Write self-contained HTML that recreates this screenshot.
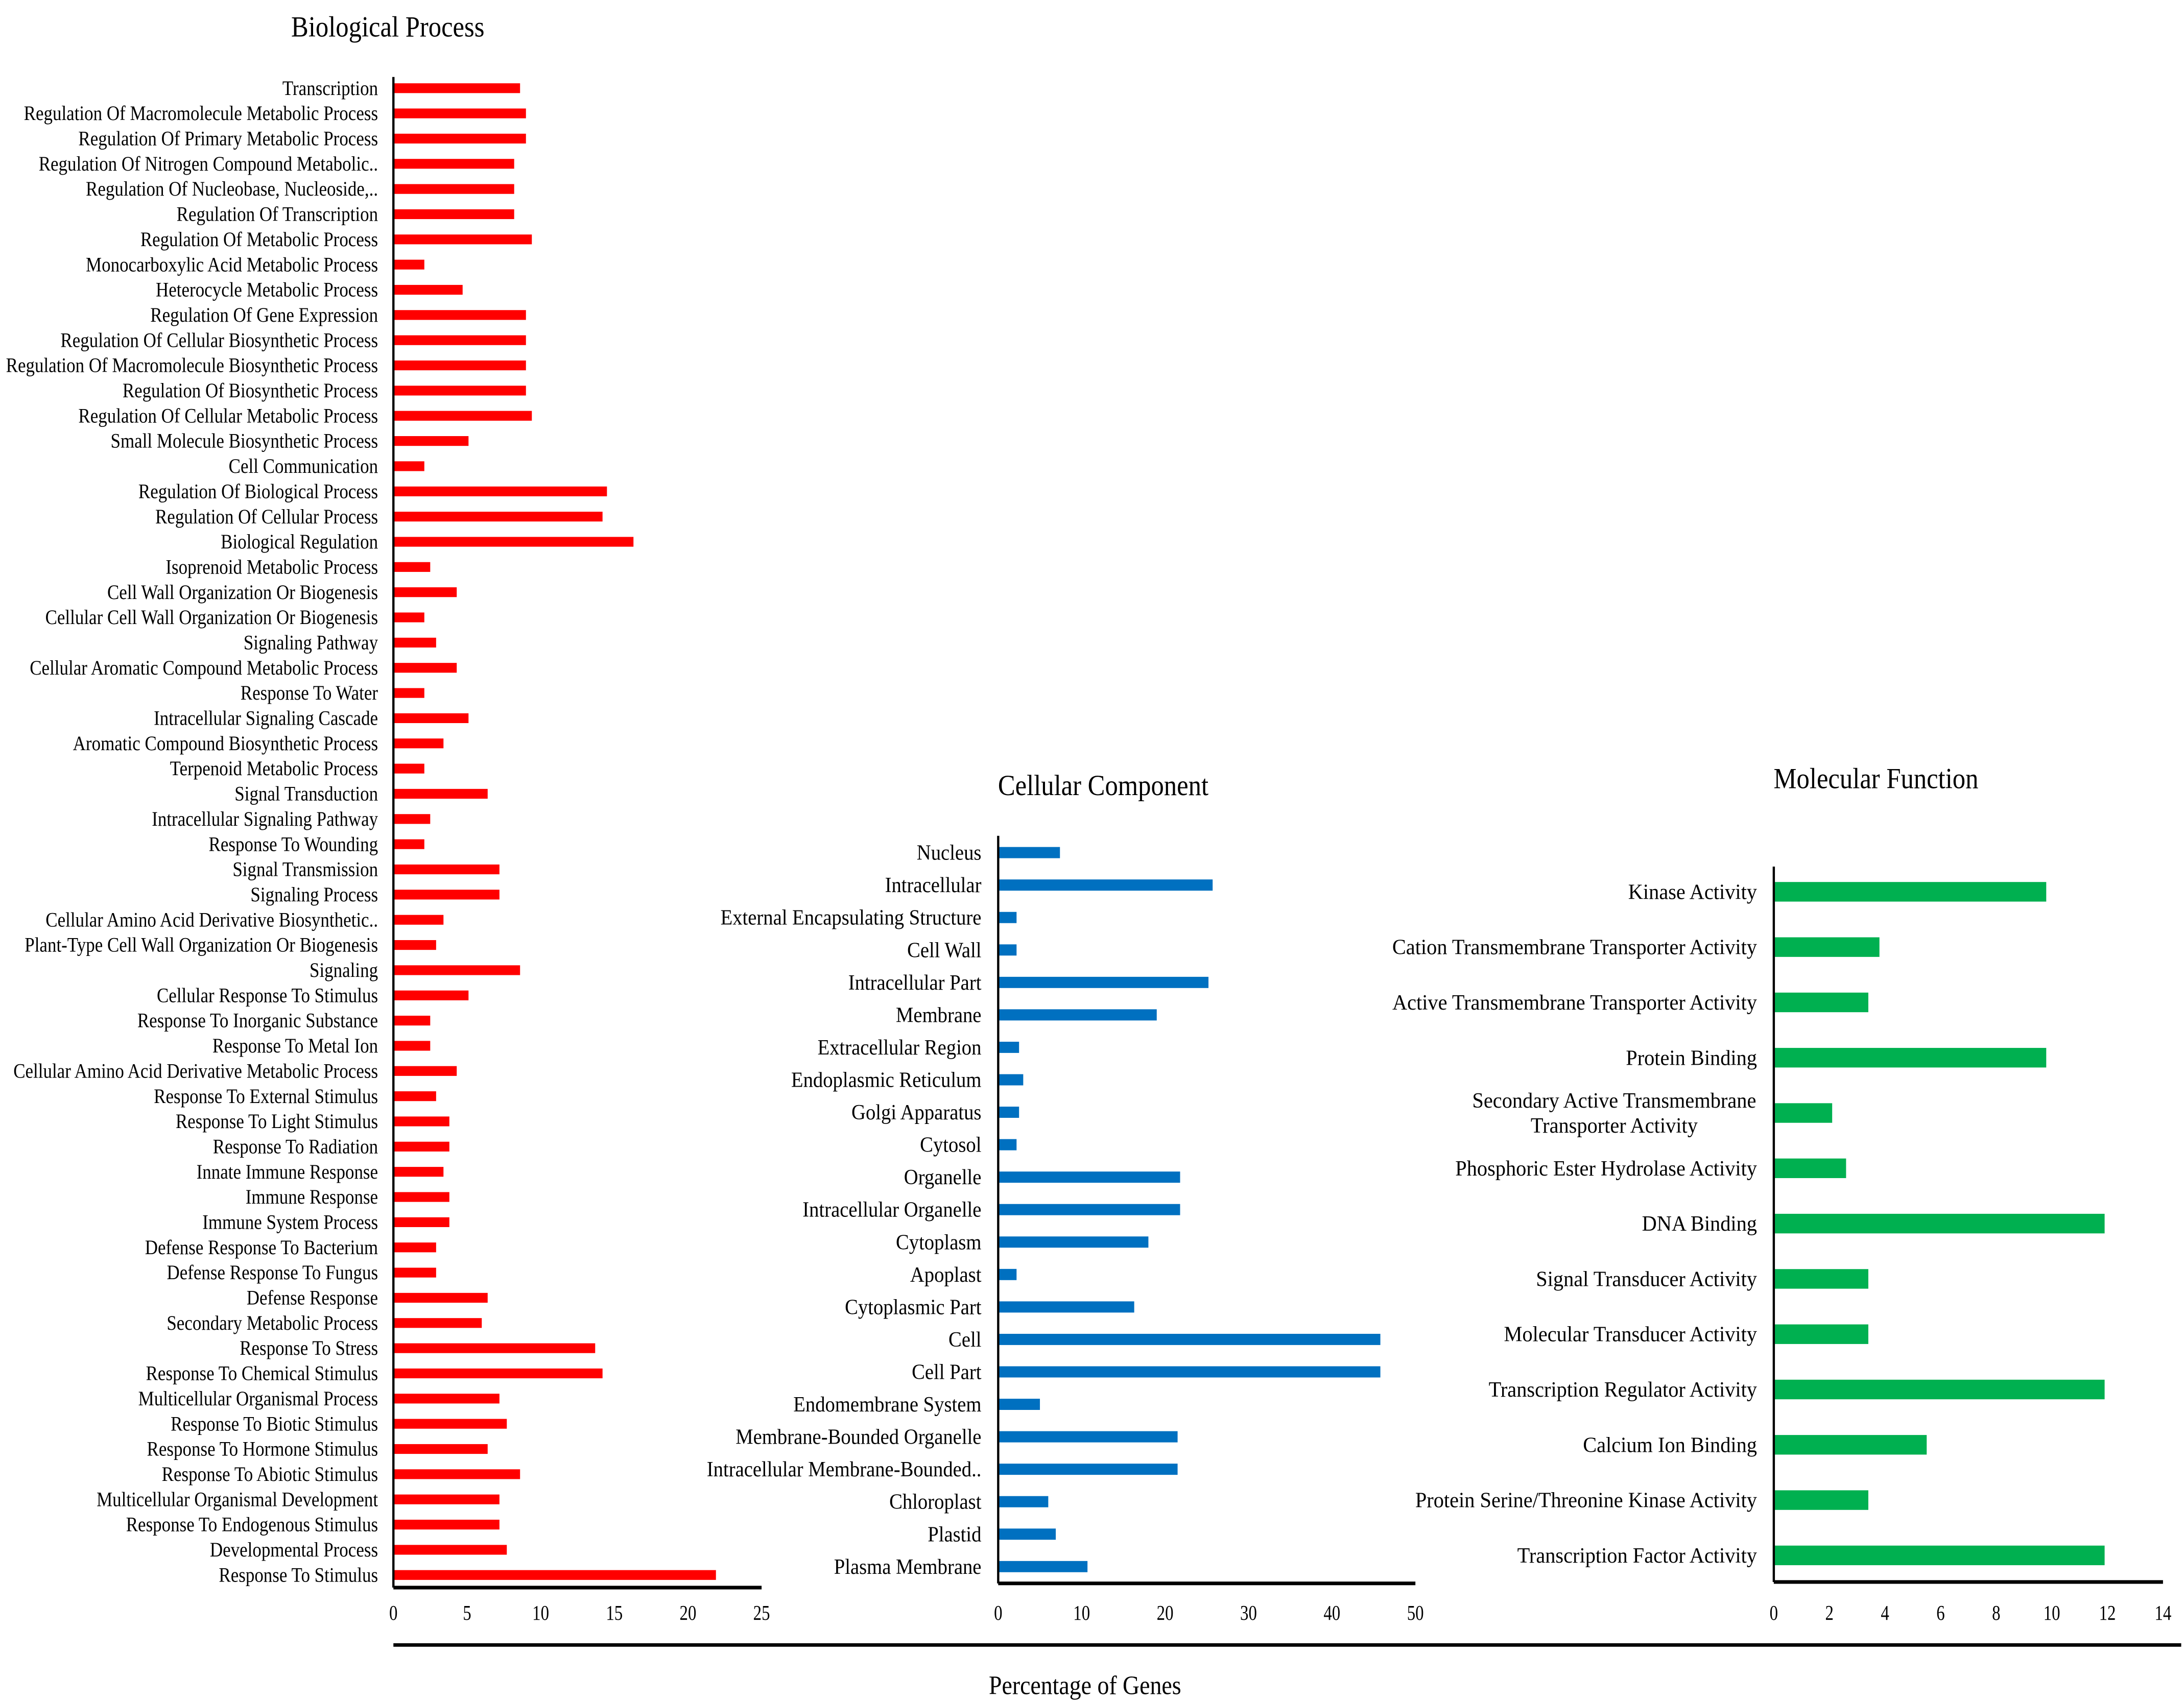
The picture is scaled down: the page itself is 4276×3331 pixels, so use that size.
<!DOCTYPE html>
<html><head><meta charset="utf-8"><style>html,body{margin:0;padding:0;background:#fff}svg{display:block}</style></head>
<body>
<svg id="chart" width="4276" height="3331" viewBox="0 0 1560 1215" preserveAspectRatio="none" xmlns="http://www.w3.org/2000/svg" font-family="'Liberation Serif', serif"></svg>
<script>
const bpCategories = ["Transcription","Regulation Of Macromolecule Metabolic Process","Regulation Of Primary Metabolic Process","Regulation Of Nitrogen Compound Metabolic..","Regulation Of Nucleobase, Nucleoside,..","Regulation Of Transcription","Regulation Of Metabolic Process","Monocarboxylic Acid Metabolic Process","Heterocycle Metabolic Process","Regulation Of Gene Expression","Regulation Of Cellular Biosynthetic Process","Regulation Of Macromolecule Biosynthetic Process","Regulation Of Biosynthetic Process","Regulation Of Cellular Metabolic Process","Small Molecule Biosynthetic Process","Cell Communication","Regulation Of Biological Process","Regulation Of Cellular Process","Biological Regulation","Isoprenoid Metabolic Process","Cell Wall Organization Or Biogenesis","Cellular Cell Wall Organization Or Biogenesis","Signaling Pathway","Cellular Aromatic Compound Metabolic Process","Response To Water","Intracellular Signaling Cascade","Aromatic Compound Biosynthetic Process","Terpenoid Metabolic Process","Signal Transduction","Intracellular Signaling Pathway","Response To Wounding","Signal Transmission","Signaling Process","Cellular Amino Acid Derivative Biosynthetic..","Plant-Type Cell Wall Organization Or Biogenesis","Signaling","Cellular Response To Stimulus","Response To Inorganic Substance","Response To Metal Ion","Cellular Amino Acid Derivative Metabolic Process","Response To External Stimulus","Response To Light Stimulus","Response To Radiation","Innate Immune Response","Immune Response","Immune System Process","Defense Response To Bacterium","Defense Response To Fungus","Defense Response","Secondary Metabolic Process","Response To Stress","Response To Chemical Stimulus","Multicellular Organismal Process","Response To Biotic Stimulus","Response To Hormone Stimulus","Response To Abiotic Stimulus","Multicellular Organismal Development","Response To Endogenous Stimulus","Developmental Process","Response To Stimulus"];
const bpValues = [8.6,9.0,9.0,8.2,8.2,8.2,9.4,2.1,4.7,9.0,9.0,9.0,9.0,9.4,5.1,2.1,14.5,14.2,16.3,2.5,4.3,2.1,2.9,4.3,2.1,5.1,3.4,2.1,6.4,2.5,2.1,7.2,7.2,3.4,2.9,8.6,5.1,2.5,2.5,4.3,2.9,3.8,3.8,3.4,3.8,3.8,2.9,2.9,6.4,6.0,13.7,14.2,7.2,7.7,6.4,8.6,7.2,7.2,7.7,21.9];
const bpTicks = [0,5,10,15,20,25];
const ccCategories = ["Nucleus","Intracellular","External Encapsulating Structure","Cell Wall","Intracellular Part","Membrane","Extracellular Region","Endoplasmic Reticulum","Golgi Apparatus","Cytosol","Organelle","Intracellular Organelle","Cytoplasm","Apoplast","Cytoplasmic Part","Cell","Cell Part","Endomembrane System","Membrane-Bounded Organelle","Intracellular Membrane-Bounded..","Chloroplast","Plastid","Plasma Membrane"];
const ccValues = [7.4,25.7,2.2,2.2,25.2,19.0,2.5,3.0,2.5,2.2,21.8,21.8,18.0,2.2,16.3,45.8,45.8,5.0,21.5,21.5,6.0,6.9,10.7];
const ccTicks = [0,10,20,30,40,50];
const mfCategories = ["Kinase Activity","Cation Transmembrane Transporter Activity","Active Transmembrane Transporter Activity","Protein Binding","Secondary Active Transmembrane|Transporter Activity","Phosphoric Ester Hydrolase Activity","DNA Binding","Signal Transducer Activity","Molecular Transducer Activity","Transcription Regulator Activity","Calcium Ion Binding","Protein Serine/Threonine Kinase Activity","Transcription Factor Activity"];
const mfValues = [9.8,3.8,3.4,9.8,2.1,2.6,11.9,3.4,3.4,11.9,5.5,3.4,11.9];
const mfTicks = [0,2,4,6,8,10,12,14];

const NS = "http://www.w3.org/2000/svg";
const svg = document.getElementById('chart');
function mk(tag, attrs, parent){const e=document.createElementNS(NS,tag);for(const k in attrs)e.setAttribute(k,attrs[k]);(parent||svg).appendChild(e);return e;}
function txt(str,x,y,size,anchor,sx,parent){
  const t=mk('text',{x:0,y:0,'font-size':size,'text-anchor':anchor,fill:'#000',transform:`translate(${x},${y}) scale(${sx},1)`},parent);
  t.textContent=str;return t;
}

function panel(name,cats,vals,ticks,o){
  const g=mk('g',{});
  
  
  const xScale=v=>o.x0+(v-ticks[0])/(ticks[ticks.length-1]-ticks[0])*(o.x1-o.x0);
  const yScale=i=>o.yFirst+i*(o.yLast-o.yFirst)/(cats.length-1);
  const title=txt(o.title,o.titleX,o.titleY,o.titleSize,'middle',0.88,g);
  
  
  cats.forEach((c,i)=>{
    const y=yScale(i);
    const r=mk('rect',{x:xScale(0),y:y-o.bh/2,width:xScale(vals[i])-xScale(0),height:o.bh,fill:o.color},g);
    
    
    const lines=c.split('|');
    if(lines.length===1){
      const t=txt(c,o.labelX,y+o.fs*0.33,o.fs,'end',o.sx,g);
      
      
    } else {
      lines.forEach((l,k)=>{
        const t=txt(l,o.multiCenter,y+o.fs*0.33+(k-0.5)*18,o.fs,'middle',o.sx,g);
        
        
      });
    }
  });
  const ya=mk('line',{x1:o.x0,x2:o.x0,y1:o.yTop,y2:o.axisY,stroke:'#000','stroke-width':1.6},g);
  
  
  const xa=mk('line',{x1:o.x0,x2:o.x1,y1:o.axisY,y2:o.axisY,stroke:'#000','stroke-width':2.6},g);
  
  
  ticks.forEach(v=>{
    const t=txt(String(v),xScale(v),o.tickY,15,'middle',0.8,g);
    
    
  });
}

panel('biological-process',bpCategories,bpValues,bpTicks,{x0:281,x1:544,yFirst:63,yLast:1125,bh:7,color:'#ff0000',labelX:270,fs:14.5,sx:0.88,title:'Biological Process',titleX:277,titleY:26,titleSize:21,yTop:55,axisY:1134,tickY:1157});
panel('cellular-component',ccCategories,ccValues,ccTicks,{x0:713,x1:1011,yFirst:609,yLast:1119,bh:8,color:'#0070c0',labelX:701,fs:15.5,sx:0.91,title:'Cellular Component',titleX:788,titleY:568,titleSize:21,yTop:597,axisY:1131,tickY:1157});
panel('molecular-function',mfCategories,mfValues,mfTicks,{x0:1267,x1:1545,yFirst:637,yLast:1111,bh:14,color:'#00b050',labelX:1255,multiCenter:1153,fs:15.5,sx:0.95,title:'Molecular Function',titleX:1340,titleY:563,titleSize:21,yTop:619,axisY:1130,tickY:1157});

const big=mk('line',{x1:281,x2:1558,y1:1175,y2:1175,stroke:'#000','stroke-width':2.5});


const xt=txt('Percentage of Genes',775,1210,19,'middle',0.88);


</script>
</body></html>
